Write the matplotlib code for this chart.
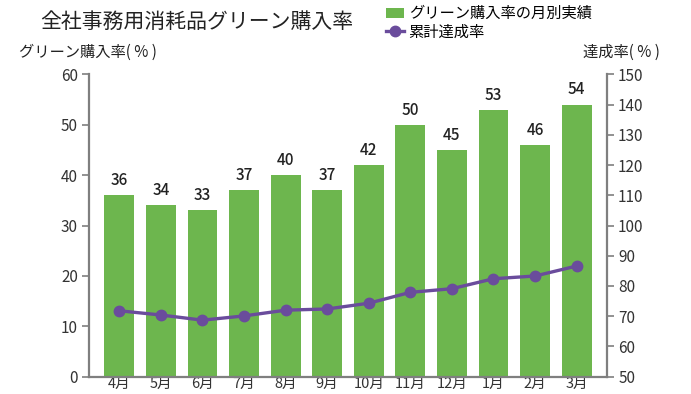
import numpy as np
import matplotlib
matplotlib.use("Agg")
import matplotlib.pyplot as plt
from matplotlib.lines import Line2D
from matplotlib.patches import Patch

plt.rcParams['font.family'] = ['Noto Sans CJK JP', 'DejaVu Sans']

months = ["4月", "5月", "6月", "7月", "8月", "9月", "10月", "11月", "12月", "1月", "2月", "3月"]
green_rate = [36, 34, 33, 37, 40, 37, 42, 50, 45, 53, 46, 54]
achieve_rate = [71.8, 70.4, 68.7, 70.1, 72.0, 72.4, 74.3, 77.9, 79.1, 82.4, 83.3, 86.6]

bar_color = "#6db64e"
line_color = "#6a4c9c"
axis_gray = "#7f7f7f"
text_col = "#222222"

fig = plt.figure(figsize=(6.91, 3.94), dpi=100)
ax = fig.add_axes([0.1288, 0.0439, 0.7496, 0.7675])
x = np.arange(len(months))

bars = ax.bar(x, green_rate, width=0.72, color=bar_color, zorder=2)
for xi, v in zip(x, green_rate):
    ax.text(xi, v + 1.2, str(v), ha="center", va="bottom", fontsize=11,
            color=text_col, fontweight="medium")

ax.set_xlim(-0.73, 11.73)
ax.set_ylim(0, 60)
ax.set_yticks(range(0, 61, 10))
ax.set_xticks(x)
ax.set_xticklabels(months)

ax2 = ax.twinx()
ax2.plot(x, achieve_rate, color=line_color, lw=2.4, marker="o", markersize=7.5, zorder=3)
ax2.set_ylim(50, 150)
ax2.set_yticks(range(50, 151, 10))

for a in (ax, ax2):
    a.spines["top"].set_visible(False)
    for s in ("left", "right", "bottom"):
        a.spines[s].set_color(axis_gray)
        a.spines[s].set_linewidth(1.6)
    a.tick_params(axis="y", length=5, width=1.2, color=axis_gray, labelsize=11,
                  labelcolor="#333333", pad=3)
    a.tick_params(axis="x", length=0, labelsize=10.5, labelcolor="#333333", pad=0.5)
ax.spines["right"].set_visible(False)
ax2.spines["left"].set_visible(False)
ax2.spines["bottom"].set_visible(False)

fig.text(0.058, 0.945, "全社事務用消耗品グリーン購入率", fontsize=15, color=text_col,
         va="center", ha="left")
fig.text(0.028, 0.868, "グリーン購入率( % )", fontsize=11, color=text_col,
         va="center", ha="left")
fig.text(0.955, 0.868, "達成率( % )", fontsize=11, color=text_col,
         va="center", ha="right")

handles = [Patch(facecolor=bar_color, edgecolor="none"),
           Line2D([0], [0], color=line_color, lw=2.4, marker="o", markersize=7.5)]
labels = ["グリーン購入率の月別実績", "累計達成率"]
fig.legend(handles, labels, loc="upper left", bbox_to_anchor=(0.545, 1.01),
           frameon=False, fontsize=11, handlelength=1.2, handletextpad=0.3,
           labelspacing=0.1, borderaxespad=0.2)

fig.savefig("out.png", dpi=100)
